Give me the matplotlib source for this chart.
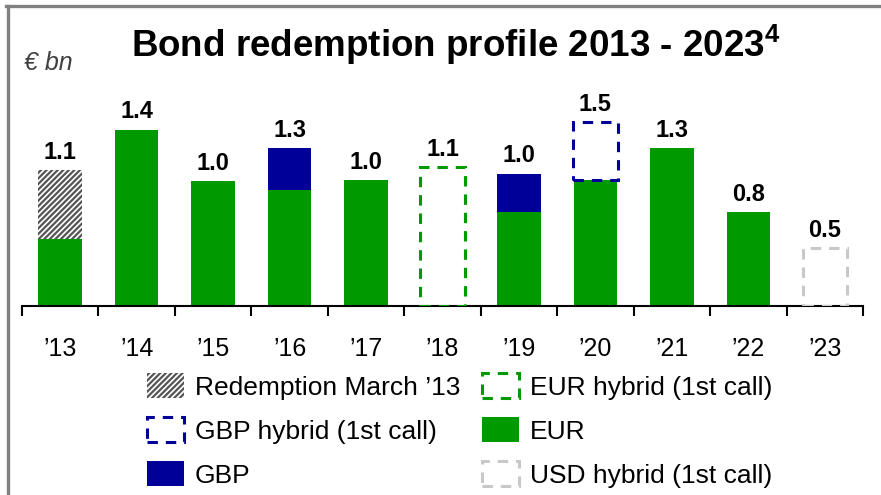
import matplotlib
matplotlib.use("Agg")
import matplotlib.pyplot as plt
from matplotlib.patches import Patch
from matplotlib.lines import Line2D
import numpy as np

plt.rcParams['font.family'] = ['Liberation Sans', 'DejaVu Sans']
plt.rcParams['mathtext.fontset'] = 'custom'
plt.rcParams['mathtext.rm'] = 'Liberation Sans'
plt.rcParams['mathtext.bf'] = 'Liberation Sans:bold'
plt.rcParams['hatch.linewidth'] = 1.6

years = ["’13", "’14", "’15", "’16", "’17", "’18", "’19", "’20", "’21", "’22", "’23"]
eur = [0.53, 1.40, 0.99, 0.915, 1.00, 0.0, 0.74, 1.00, 1.25, 0.74, 0.0]
redemption_mar13 = [0.55, 0, 0, 0, 0, 0, 0, 0, 0, 0, 0]
gbp = [0, 0, 0, 0.34, 0, 0, 0.31, 0, 0, 0, 0]
eur_hybrid = [0, 0, 0, 0, 0, 1.10, 0, 0, 0, 0, 0]
gbp_hybrid = [0, 0, 0, 0, 0, 0, 0, 0.46, 0, 0, 0]
usd_hybrid = [0, 0, 0, 0, 0, 0, 0, 0, 0, 0, 0.46]
value_labels = ["1.1", "1.4", "1.0", "1.3", "1.0", "1.1", "1.0", "1.5", "1.3", "0.8", "0.5"]

GREEN = "#009900"
NAVY = "#000099"
GREY = "#c8c8c8"

W, H = 881, 495
fig = plt.figure(figsize=(W / 100, H / 100), dpi=100)
ax = fig.add_axes([22 / W, (H - 305.5) / H, 841 / W, 225.5 / H])
ax.set_xlim(-0.5, 10.5)
ax.set_ylim(0, 225.5 / 125.7)

x = np.arange(len(years))
bw = 0.57
eur_a = np.array(eur)
red_a = np.array(redemption_mar13)
gbp_a = np.array(gbp)

ax.bar(x, eur_a, bw, color=GREEN, linewidth=0, zorder=2)
ax.bar(x, red_a, bw, bottom=eur_a, facecolor="white", edgecolor="#555555",
       hatch="//////", linewidth=0, zorder=2)
ax.bar(x, gbp_a, bw, bottom=eur_a, color=NAVY, linewidth=0, zorder=2)
bottom_h = eur_a + red_a + gbp_a
dash = (0, (3.4, 2.6))
for vals, col in [(eur_hybrid, GREEN), (gbp_hybrid, NAVY), (usd_hybrid, GREY)]:
    v = np.array(vals)
    mask = v > 0
    ax.bar(x[mask], v[mask], bw * 1.02, bottom=bottom_h[mask], fill=False,
           edgecolor=col, linewidth=2.2, linestyle=dash, zorder=3)
totals = bottom_h + np.array(eur_hybrid) + np.array(gbp_hybrid) + np.array(usd_hybrid)

for xi, t, lab in zip(x, totals, value_labels):
    ax.annotate(lab, (xi, t), xytext=(0, 8), textcoords="offset points",
                ha="center", va="baseline", fontsize=17, fontweight="bold")

for s in ["top", "right", "left"]:
    ax.spines[s].set_visible(False)
ax.spines["bottom"].set_linewidth(1.5)
ax.set_yticks([])
ax.set_xticks(x)
ax.set_xticklabels(years, fontsize=18)
ax.tick_params(axis="x", which="major", length=0, pad=23)
ax.set_xticks(np.arange(-0.5, 11, 1.0), minor=True)
ax.tick_params(axis="x", which="minor", length=7, width=1.5, direction="out")

# Title and unit
fig.text(456 / W, 1 - 57 / H, r"Bond redemption profile 2013 - 2023$^{\mathbf{4}}$",
         ha="center", va="baseline", fontsize=26.5, fontweight="bold")
fig.text(24 / W, 1 - 70 / H, "€ bn", ha="left", va="baseline",
         fontsize=18, fontstyle="italic", color="#404040")

# Frame lines (grey border)
fig.add_artist(Line2D([6 / W, 1], [1 - 6 / H, 1 - 6 / H], color="#808080",
                      linewidth=2.4, transform=fig.transFigure))
fig.add_artist(Line2D([7.5 / W, 7.5 / W], [0, 1 - 6 / H], color="#808080",
                      linewidth=2.4, transform=fig.transFigure))

handles = [
    Patch(facecolor="white", edgecolor="#555555", hatch="//////", linewidth=0,
          label="Redemption March ’13"),
    Patch(fill=False, edgecolor=NAVY, linestyle=dash, linewidth=2.2,
          label="GBP hybrid (1st call)"),
    Patch(facecolor=NAVY, linewidth=0, label="GBP"),
    Patch(fill=False, edgecolor=GREEN, linestyle=dash, linewidth=2.2,
          label="EUR hybrid (1st call)"),
    Patch(facecolor=GREEN, linewidth=0, label="EUR"),
    Patch(fill=False, edgecolor=GREY, linestyle=dash, linewidth=2.2,
          label="USD hybrid (1st call)"),
]
fig.legend(handles=handles, ncol=2, loc="upper left",
           bbox_to_anchor=(147 / W, 1 - 373 / H), frameon=False,
           fontsize=19, handlelength=1.42, handleheight=1.1, handletextpad=0.4,
           labelspacing=0.66, columnspacing=0.8, borderpad=0, borderaxespad=0)

fig.savefig("out.png", dpi=100)
